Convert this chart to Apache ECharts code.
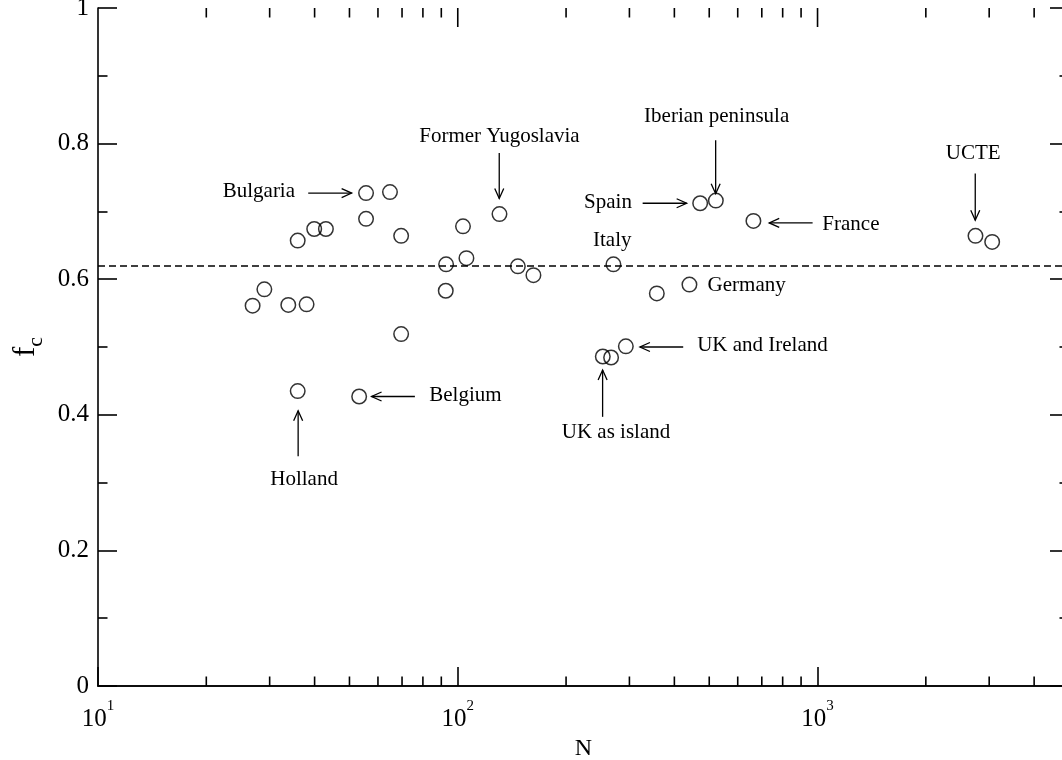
<!DOCTYPE html>
<html><head><meta charset="utf-8">
<script src="https://cdn.jsdelivr.net/npm/echarts@6/dist/echarts.min.js"></script>
<style>html,body{margin:0;padding:0;background:#fff}#c{width:1062px;height:760px}</style>
</head><body><div id="c"></div>
<script>
// ---- data ----
const nValues  = [55.6, 64.8, 55.6, 39.9, 43.0, 35.9, 69.6, 103.4, 130.6, 92.8, 105.7, 146.9, 162.3, 29.0, 26.9, 33.8, 38.0, 92.6, 69.6, 35.9, 53.2, 270.8, 357.5, 440.5, 471.8, 521.6, 663.4, 253.0, 266.8, 293.2, 2748, 3058];
const fcValues = [0.727, 0.7285, 0.689, 0.674, 0.674, 0.657, 0.664, 0.678, 0.696, 0.622, 0.631, 0.619, 0.606, 0.585, 0.561, 0.562, 0.563, 0.583, 0.519, 0.435, 0.427, 0.622, 0.579, 0.592, 0.712, 0.716, 0.686, 0.486, 0.4845, 0.501, 0.664, 0.655];
const criticalF = 0.62;

const noteTexts = ['Bulgaria', 'Belgium', 'Holland', 'Former Yugoslavia', 'Iberian peninsula', 'Spain', 'France', 'Italy', 'Germany', 'UK and Ireland', 'UK as island', 'UCTE'];
const noteN = [28.0, 105, 37.4, 130.6, 524.4, 261.5, 1238, 268.8, 635.3, 702.9, 275.3, 2709];
const noteF = [0.729, 0.428, 0.305, 0.810, 0.840, 0.713, 0.681, 0.657, 0.591, 0.502, 0.374, 0.785];

const arrowFromN = [38.4, 76.0, 36.0, 130.4, 521, 326.5, 969, 423.3, 252.7, 2744];
const arrowFromF = [0.727, 0.427, 0.339, 0.786, 0.805, 0.712, 0.683, 0.500, 0.397, 0.756];
const arrowToN   = [50.7, 57.6, 36.0, 130.4, 521, 432.7, 734, 320.9, 252.7, 2744];
const arrowToF   = [0.727, 0.427, 0.406, 0.719, 0.726, 0.712, 0.683, 0.500, 0.466, 0.687];

const xMin = 10, xMax = 5000;
const xMajorTicks = [100, 1000];
const yTickLabels = ['0', '0.2', '0.4', '0.6', '0.8', '1'];

// ---- build ----
const FONT = '"Liberation Serif", "Times New Roman", serif';
const topTicks = [];
for (let e = 1; e <= 3; e++) for (let k = 2; k <= 9; k++) { const v = k * Math.pow(10, e); if (v > xMin && v < xMax) topTicks.push([v, 0, 9.5, 1]); }
xMajorTicks.forEach(v => topTicks.push([v, 0, 19, 0]));

const chart = echarts.init(document.getElementById('c'), null, { renderer: 'canvas' });
const lineW = 1.6;
const axisCommon = {
  axisLine: { show: true, lineStyle: { color: '#000', width: lineW } },
  axisTick: { show: true, inside: true, length: 19, lineStyle: { color: '#000', width: lineW } },
  splitLine: { show: false }
};
chart.setOption({
  animation: false,
  backgroundColor: '#fff',
  grid: { left: 98, right: -7, top: 8, bottom: 74, containLabel: false, outerBoundsMode: 'none' },
  xAxis: [
    Object.assign({
      type: 'log', logBase: 10, min: xMin, max: xMax, position: 'bottom',
      name: 'N', nameLocation: 'middle', nameGap: 49,
      nameTextStyle: { fontFamily: FONT, fontSize: 24, color: '#000' },
      axisLabel: {
        show: true, margin: 21, showMaxLabel: false, color: '#000',
        formatter: v => '{b|10}{s|' + Math.round(Math.log10(v)) + '}',
        rich: {
          b: { fontFamily: FONT, fontSize: 25, lineHeight: 25, color: '#000', verticalAlign: 'bottom' },
          s: { fontFamily: FONT, fontSize: 15, lineHeight: 15, color: '#000', verticalAlign: 'bottom', padding: [0, 0, 18, 0] }
        }
      }
    }, axisCommon),
    {
      type: 'log', logBase: 10, min: xMin, max: xMax, position: 'top',
      axisLine: { show: true, lineStyle: { color: '#000', width: lineW } },
      axisTick: { show: false }, axisLabel: { show: false }, splitLine: { show: false }
    }
  ],
  yAxis: [
    Object.assign({
      type: 'value', min: 0, max: 1, interval: 0.2, position: 'left',
      name: '{f|f}{c|c}', nameLocation: 'middle', nameGap: 52, nameRotate: 90,
      nameTextStyle: {
        rich: {
          f: { fontFamily: FONT, fontSize: 31, color: '#000', verticalAlign: 'top', lineHeight: 31 },
          c: { fontFamily: FONT, fontSize: 22, color: '#000', verticalAlign: 'top', lineHeight: 22, padding: [14, 0, 0, 0] }
        }
      },
      minorTick: { show: true, splitNumber: 2, length: 9.5, lineStyle: { color: '#000', width: lineW } },
      axisLabel: {
        show: true, margin: 9, color: '#000', fontFamily: FONT, fontSize: 25,
        formatter: v => yTickLabels[Math.round(v / 0.2)]
      }
    }, axisCommon),
    Object.assign({
      type: 'value', min: 0, max: 1, interval: 0.2, position: 'right',
      minorTick: { show: true, splitNumber: 2, length: 9.5, lineStyle: { color: '#000', width: lineW } },
      axisLabel: { show: false }
    }, axisCommon)
  ],
  series: [
    {
      type: 'scatter', xAxisIndex: 0, yAxisIndex: 0,
      data: nValues.map((n, i) => [n, fcValues[i]]),
      symbol: 'circle', symbolSize: 14.5,
      itemStyle: { color: 'rgba(0,0,0,0)', borderColor: '#000', borderWidth: 1.5 },
      emphasis: { disabled: true },
      markLine: {
        silent: true, symbol: ['none', 'none'], label: { show: false },
        lineStyle: { color: '#000', width: 1.5, type: [7, 4] },
        data: [{ yAxis: criticalF }]
      },
      z: 5
    },
    {
      type: 'custom', xAxisIndex: 0, yAxisIndex: 0, silent: true,
      data: topTicks,
      encode: { x: 0, y: 1 },
      renderItem: (params, api) => {
        const v = api.value(0), len = api.value(2), alsoBottom = api.value(3);
        const pb = api.coord([v, 0]);
        const pt = api.coord([v, 1]);
        const st = { stroke: '#000', lineWidth: lineW };
        const ch = [{ type: 'line', shape: { x1: pt[0], y1: pt[1], x2: pt[0], y2: pt[1] + len }, style: st }];
        if (alsoBottom) ch.push({ type: 'line', shape: { x1: pb[0], y1: pb[1], x2: pb[0], y2: pb[1] - len }, style: st });
        return { type: 'group', children: ch };
      }
    },
    {
      type: 'custom', xAxisIndex: 0, yAxisIndex: 0, silent: true,
      data: arrowFromN.map((n, i) => [n, arrowFromF[i], arrowToN[i], arrowToF[i]]),
      encode: { x: [0, 2], y: [1, 3] },
      renderItem: (params, api) => {
        const p1 = api.coord([api.value(0), api.value(1)]);
        const p2 = api.coord([api.value(2), api.value(3)]);
        const dx = p2[0] - p1[0], dy = p2[1] - p1[1], L = Math.hypot(dx, dy) || 1;
        const ux = dx / L, uy = dy / L, hl = 10, hw = 4.5;
        const bx = p2[0] - ux * hl, by = p2[1] - uy * hl;
        const a = [bx - uy * hw, by + ux * hw], b = [bx + uy * hw, by - ux * hw];
        const st = { stroke: '#000', lineWidth: 1.3, fill: null };
        return { type: 'group', children: [
          { type: 'line', shape: { x1: p1[0], y1: p1[1], x2: p2[0], y2: p2[1] }, style: st },
          { type: 'polyline', shape: { points: [a, p2, b] }, style: st }
        ] };
      }
    },
    {
      type: 'custom', xAxisIndex: 0, yAxisIndex: 0, silent: true,
      data: noteN.map((n, i) => [n, noteF[i]]),
      encode: { x: 0, y: 1 },
      renderItem: (params, api) => {
        const p = api.coord([api.value(0), api.value(1)]);
        return { type: 'text', x: p[0], y: p[1], style: {
          text: noteTexts[params.dataIndex], fill: '#000',
          fontFamily: FONT, fontSize: 21, align: 'center', verticalAlign: 'middle'
        } };
      }
    }
  ]
});
</script>
</body></html>
